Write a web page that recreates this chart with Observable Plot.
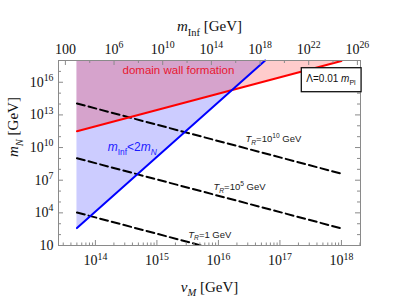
<!DOCTYPE html>
<html><head><meta charset="utf-8">
<script src="https://cdn.jsdelivr.net/npm/d3@7"></script>
<script src="https://cdn.jsdelivr.net/npm/@observablehq/plot@0.6"></script>
<style>body{margin:0;background:#fff} svg{display:block}</style>
</head><body><div id="chart"></div>
<script>
// ---------- data ----------
// blue line: m_Inf = 2 m_N
const blueV = [10**13.7, 10**16.76];
const blueM = [10**2.6, 1e18];
// red line: domain wall formation boundary
const redV = [10**13.7, 1e18];
const redM = [10**11.5, 10**17.95];
// reheating temperature lines
const trNames = ["T_R=10^10 GeV", "T_R=10^5 GeV", "T_R=1 GeV"];
const trV = [[10**13.7, 1e18], [10**13.7, 1e18], [10**13.7, 10**15.72]];
const trM = [[10**14.05, 10**7.6], [10**9.02, 10**2.57], [10**4.03, 10]];
// annotation labels (data coordinates)
const trLabels = ["*{T}~{R}=10^{10} GeV", "*{T}~{R}=10^{5} GeV", "*{T}~{R}=1 GeV"];
const trLabelV = [10**16.44, 10**15.92, 10**15.51];
const trLabelM = [10**10.75, 10**6.34, 10**2.01];
const wallLabel = ["domain wall formation"], wallLabelV = [10**15.35], wallLabelM = [10**17.1];
const infLabel = ["*{m}_{Inf}<2*{m}~{N}"], infLabelV = [10**14.6], infLabelM = [10**10.0];
const lamLabel = ["Λ=0.01 *{m}_{Pl}"], lamLabelV = [10**17.83], lamLabelM = [10**16.3];
// axes
const xTicks = [1e14, 1e15, 1e16, 1e17, 1e18];
const xTickLabels = ["10^{14}", "10^{15}", "10^{16}", "10^{17}", "10^{18}"];
const yTicks = [10, 1e4, 1e7, 1e10, 1e13, 1e16];
const yTickLabels = ["10", "10^{4}", "10^{7}", "10^{10}", "10^{13}", "10^{16}"];
const topTicksLogM = [2, 6, 10, 14, 18, 22, 26];
const topTickLabels = ["100", "10^{6}", "10^{10}", "10^{14}", "10^{18}", "10^{22}", "10^{26}"];
const topMinorLogM = [4, 8, 12, 16, 20, 24];
// relation of top axis (m_Inf) to bottom axis (v_M)
const topLogV0 = 13.512, topSlope = 0.1978;

// ---------- build ----------
const blueRows = blueV.map((v, i) => ({v, m: blueM[i]}));
const redRows = redV.map((v, i) => ({v, m: redM[i]}));
const trRows = trNames.flatMap((s, j) => trV[j].map((v, i) => ({s, v, m: trM[j][i]})));
const topV = l => 10 ** (topLogV0 + (l - 2) * topSlope);
const topTicks = topTicksLogM.map(topV);
const topMinor = topMinorLogM.map(topV);
const xDomain = [10**13.4, 10**18.31];
const xMinor = [];
for (let d = 13; d <= 18; d++) for (let k = 2; k <= 9; k++) { const v = k * 10**d; if (v > xDomain[0] && v < xDomain[1]) xMinor.push(v); }
const yAllDec = d3.range(1, 18).map(d => 10**d).filter(v => !yTicks.includes(v));
const yTop = 1e18;

const W = 419, H = 306, mL = 58, mR = 59, mT = 60, mB = 61;
const pw = W - mL - mR, ph = H - mT - mB;
const gray = "#8a8a8a";
const serif = "'Liberation Serif', 'Times New Roman', serif";
const sans = "'Liberation Sans', Arial, sans-serif";

const plot = Plot.plot({
  width: W, height: H, marginLeft: mL, marginRight: mR, marginTop: mT, marginBottom: mB,
  style: {background: "#fff", fontFamily: serif},
  x: {type: "log", domain: xDomain, label: null},
  y: {type: "log", domain: [10, yTop], label: null},
  marks: [
    Plot.areaY(blueRows, {x: "v", y1: "m", y2: () => yTop, fill: "#0000ff", fillOpacity: 0.2}),
    Plot.areaY(redRows, {x: "v", y1: "m", y2: () => yTop, fill: "#ff0000", fillOpacity: 0.2}),
    Plot.line(trRows, {x: "v", y: "m", z: "s", stroke: "#000", strokeWidth: 2, strokeDasharray: "8,4", clip: true}),
    Plot.line(redRows, {x: "v", y: "m", stroke: "#ff0000", strokeWidth: 2}),
    Plot.line(blueRows, {x: "v", y: "m", stroke: "#0000ff", strokeWidth: 2}),
    // inward frame ticks
    Plot.tickX(xTicks, {x: d => d, insetTop: ph - 5, stroke: gray}),
    Plot.tickX(xMinor, {x: d => d, insetTop: ph - 2.5, stroke: gray}),
    Plot.tickX(topTicks, {x: d => d, insetBottom: ph - 5, stroke: gray}),
    Plot.tickX(topMinor, {x: d => d, insetBottom: ph - 3, stroke: gray}),
    Plot.tickY(yTicks, {y: d => d, insetRight: pw - 5, stroke: gray}),
    Plot.tickY(yAllDec, {y: d => d, insetRight: pw - 3, stroke: gray}),
    Plot.tickY(yTicks, {y: d => d, insetLeft: pw - 5, stroke: gray}),
    Plot.tickY(yAllDec, {y: d => d, insetLeft: pw - 3, stroke: gray}),
    Plot.frame({stroke: gray}),
    Plot.axisX(xTicks, {anchor: "bottom", tickSize: 0, tickPadding: 10, fontSize: 14, fill: "#111", label: null,
      tickFormat: d => xTickLabels[xTicks.indexOf(d)]}),
    Plot.text(topTicks, {x: d => d, frameAnchor: "top", dy: -7, lineAnchor: "bottom",
      text: (d, i) => topTickLabels[i], fontSize: 14, fontFamily: serif, fill: "#111"}),
    Plot.axisY(yTicks, {anchor: "left", tickSize: 0, tickPadding: 5, fontSize: 14, fill: "#111", label: null,
      tickFormat: d => yTickLabels[yTicks.indexOf(d)]}),
    // axis titles
    Plot.text(["*{m}_{Inf} [GeV]"], {frameAnchor: "top", dy: -40, fontSize: 15, fontFamily: serif, fill: "#111"}),
    Plot.text(["*{v}~{M} [GeV]"], {frameAnchor: "bottom", dy: 46, fontSize: 15, fontFamily: serif, fill: "#111"}),
    Plot.text(["*{m}~{N} [GeV]"], {frameAnchor: "left", dx: -45, dy: 4, rotate: -90, fontSize: 15, fontFamily: serif, fill: "#111"}),
    // annotations
    Plot.text(wallLabel, {x: (d, i) => wallLabelV[i], y: (d, i) => wallLabelM[i], text: d => d, fill: "#e8172f", fontSize: 11.5, fontFamily: sans}),
    Plot.text(infLabel, {x: (d, i) => infLabelV[i], y: (d, i) => infLabelM[i], text: d => d, fill: "#1a1aff", fontSize: 12, fontFamily: sans}),
    Plot.text(trLabels, {x: (d, i) => trLabelV[i], y: (d, i) => trLabelM[i], text: d => d, textAnchor: "start", fill: "#222", fontSize: 9.5, fontFamily: sans}),
    Plot.text(lamLabel, {x: (d, i) => lamLabelV[i], y: (d, i) => lamLabelM[i], text: d => d, fill: "#111", fontSize: 10, fontFamily: sans})
  ]
});
document.getElementById("chart").appendChild(plot);

// rich text: *{italic}, _{subscript}, ~{italic subscript}, ^{superscript}
function rich(el, str, fs) {
  const parts = []; const re = /([_^*~])\{([^}]*)\}/g; let last = 0, m;
  while ((m = re.exec(str))) {
    if (m.index > last) parts.push(["n", str.slice(last, m.index)]);
    parts.push([m[1], m[2]]); last = re.lastIndex;
  }
  if (last < str.length) parts.push(["n", str.slice(last)]);
  el.textContent = "";
  el.setAttribute("xml:space", "preserve");
  let shift = 0;
  for (const [t, s] of parts) {
    const ts = d3.select(el).append("tspan").text(s);
    let target = 0;
    if (t === "_" || t === "~") { target = fs * 0.3; ts.attr("font-size", fs * 0.7); }
    if (t === "^") { target = -fs * 0.42; ts.attr("font-size", fs * 0.7); }
    if (t === "*" || t === "~") ts.attr("font-style", "italic");
    if (target !== shift) { ts.attr("dy", target - shift); shift = target; }
  }
}
d3.select(plot).selectAll("text").each(function () {
  const s = this.textContent;
  if (/[_^*~]\{/.test(s)) rich(this, s, parseFloat(getComputedStyle(this).fontSize));
});
// box around the Λ label
d3.select(plot).selectAll("text").each(function () {
  if (!this.textContent.startsWith("Λ")) return;
  const b = this.getBBox();
  const r = document.createElementNS("http://www.w3.org/2000/svg", "rect");
  r.setAttribute("x", b.x - 5); r.setAttribute("y", b.y - 5.5);
  r.setAttribute("width", b.width + 10); r.setAttribute("height", b.height + 11);
  r.setAttribute("fill", "#fff"); r.setAttribute("stroke", "#111"); r.setAttribute("stroke-width", 1.3);
  if (this.getAttribute("transform")) r.setAttribute("transform", this.getAttribute("transform"));
  this.parentNode.insertBefore(r, this);
});
</script>
</body></html>
